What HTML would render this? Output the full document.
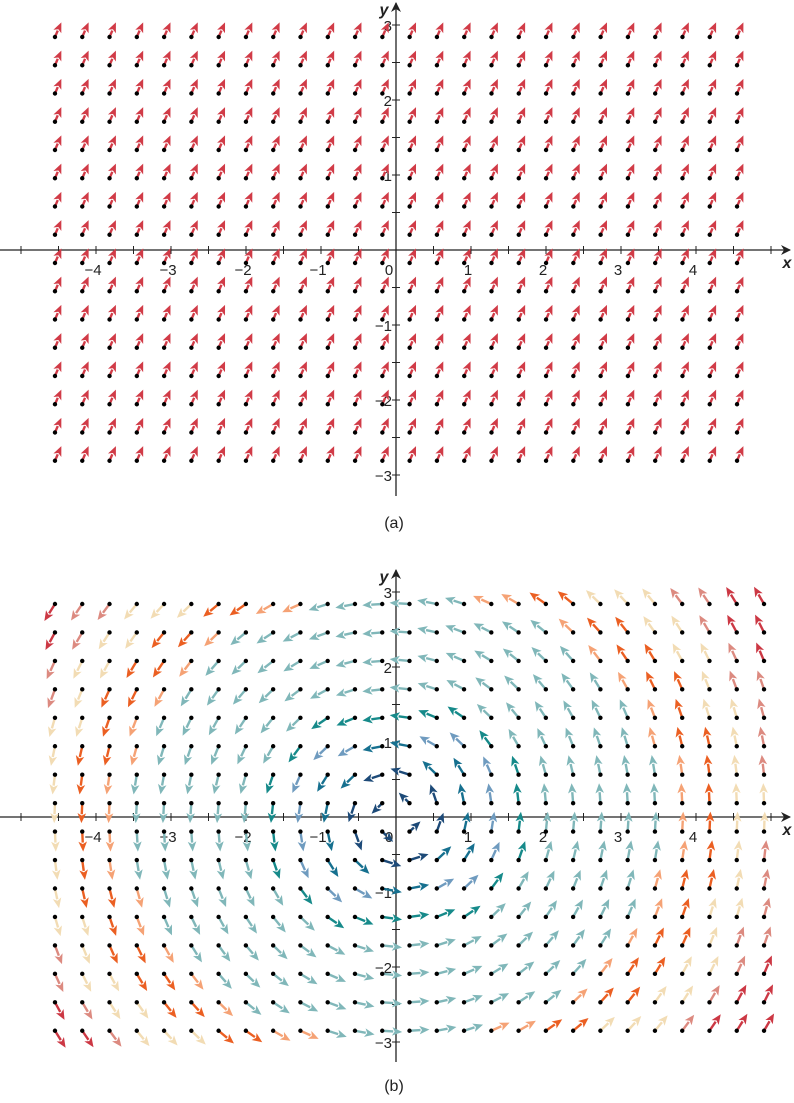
<!DOCTYPE html>
<html><head><meta charset="utf-8">
<style>
html,body{margin:0;padding:0;background:#fff;}
svg{display:block;font-family:"Liberation Sans",sans-serif;}
</style></head>
<body>
<svg id="fig" width="794" height="1103" viewBox="0 0 794 1103" xmlns="http://www.w3.org/2000/svg">
<defs>
<marker id="axarrow" markerWidth="10" markerHeight="10" refX="9" refY="5" orient="auto" markerUnits="userSpaceOnUse">
<path d="M0,0 L10,5 L0,10 L3,5 Z" fill="#222"/>
</marker>
</defs>
<g id="chartA"></g>
<g id="chartB"></g>
<text x="394" y="528" text-anchor="middle" font-size="16" fill="#222">(a)</text>
<text x="394" y="1091" text-anchor="middle" font-size="16" fill="#222">(b)</text>
</svg>
<script>
// ---- data ----
const xTicks = [-4,-3,-2,-1,1,2,3,4];
const yTicks = [-3,-2,-1,1,2,3];
const colsA = 26, xMinA = -4.547, xMaxA = 4.547;
const rowsA = 16, yMinA = -2.81, yMaxA = 2.84;
const vecA = [1, 2.3];
const colsB = 27, xMinB = -4.547, xMaxB = 4.907;
const rowsB = 16, yMinB = -2.85, yMaxB = 2.84;
const colorStops = [0.8, 1.25, 1.5, 1.9, 3.6, 3.95, 4.35, 4.95, 5.4];
const colorList = ["#1d4a78","#16708f","#6f9bbf","#168a8a","#80b7b9","#f5a275","#eb5f22","#f2dcb4","#dc8a80","#cc3844"];

const NS = "http://www.w3.org/2000/svg";
function mk(tag, attrs, parent){
  const e = document.createElementNS(NS, tag);
  for (const k in attrs) e.setAttribute(k, attrs[k]);
  parent.appendChild(e);
  return e;
}
const U = 75;

function drawAxes(g, ox, oy, yTop, yBot){
  const xa = mk("line",{x1:0,y1:oy,x2:790,y2:oy,stroke:"#222","stroke-width":1.3,"marker-end":"url(#axarrow)"},g);
  
  
  const ya = mk("line",{x1:ox,y1:yBot,x2:ox,y2:yTop,stroke:"#222","stroke-width":1.3,"marker-end":"url(#axarrow)"},g);
  
  
  for (let v=-5; v<=5; v+=0.5){
    const px = ox + v*U;
    if (v===0 || px<5 || px>775) continue;
    const t = mk("line",{x1:px,y1:oy-4,x2:px,y2:oy+4,stroke:"#222","stroke-width":1},g);
    
    
  }
  for (let v=-3.5; v<=3; v+=0.5){
    const py = oy - v*U;
    if (v===0 || py>yBot-4 || py<yTop+6) continue;
    const t = mk("line",{x1:ox-4,y1:py,x2:ox+4,y2:py,stroke:"#222","stroke-width":1},g);
    
    
  }
  xTicks.forEach(v=>{
    const t = mk("text",{x:ox+v*U-3,y:oy+25,"text-anchor":"middle","font-size":15,fill:"#222"},g);
    t.textContent = v<0 ? "\u2212"+(-v) : String(v);
    
    
  });
  yTicks.forEach(v=>{
    const t = mk("text",{x:ox-4,y:oy-v*U+6,"text-anchor":"end","font-size":15,fill:"#222"},g);
    t.textContent = v<0 ? "\u2212"+(-v) : String(v);
    
    
  });
  const o = mk("text",{x:ox-7,y:oy+25,"text-anchor":"middle","font-size":15,fill:"#222"},g);
  o.textContent="0";
  
  
  const xl = mk("text",{x:787,y:oy+18,"text-anchor":"middle","font-size":16,"font-style":"italic","font-weight":"bold",fill:"#222"},g);
  xl.textContent="x";
  
  
  const yl = mk("text",{x:ox-12,y:yTop+12,"text-anchor":"middle","font-size":16,"font-style":"italic","font-weight":"bold",fill:"#222"},g);
  yl.textContent="y";
  
  
}

function arrow(g, x, y, dx, dy, len, color){
  const m = Math.hypot(dx,dy) || 1;
  const ux = dx/m, uy = -dy/m;
  const tx = x+ux*len, ty = y+uy*len;
  const hl = 10, hw = 4.3;
  const bx = tx-ux*hl, by = ty-uy*hl;
  const ln = mk("line",{x1:x,y1:y,x2:bx+ux*1,y2:by+uy*1,stroke:color,"stroke-width":2.4},g);
  
  
  const p = mk("polygon",{points:`${tx},${ty} ${bx-uy*hw},${by+ux*hw} ${bx+ux*2.5},${by+uy*2.5} ${bx+uy*hw},${by-ux*hw}`,fill:color},g);
  
  
  const d = mk("circle",{cx:x,cy:y,r:2.2,fill:"#000"},g);
  
  
}

// Chart A
const gA = document.getElementById("chartA");
const oxA = 396, oyA = 250;
drawAxes(gA, oxA, oyA, 3, 496);
for (let i=0;i<colsA;i++){
  const xv = xMinA + (xMaxA-xMinA)*i/(colsA-1);
  for (let j=0;j<rowsA;j++){
    const yv = yMinA + (yMaxA-yMinA)*j/(rowsA-1);
    arrow(gA, oxA+xv*U, oyA-yv*U, vecA[0], vecA[1], 16, "#d13b47");
  }
}

// Chart B
const gB = document.getElementById("chartB");
const oxB = 396, oyB = 817;
drawAxes(gB, oxB, oyB, 570, 1062);
function colorFor(x,y){
  const r = Math.sqrt(x*x + 1.44*y*y);
  let k = 0;
  while (k<colorStops.length && r>=colorStops[k]) k++;
  return colorList[k];
}
for (let i=0;i<colsB;i++){
  const xv = xMinB + (xMaxB-xMinB)*i/(colsB-1);
  for (let j=0;j<rowsB;j++){
    const yv = yMinB + (yMaxB-yMinB)*j/(rowsB-1);
    const r = Math.hypot(xv,yv);
    const len = r<0.4 ? 15 : 20;
    arrow(gB, oxB+xv*U, oyB-yv*U, -yv, xv, len, colorFor(xv,yv));
  }
}
</script>
</body></html>
